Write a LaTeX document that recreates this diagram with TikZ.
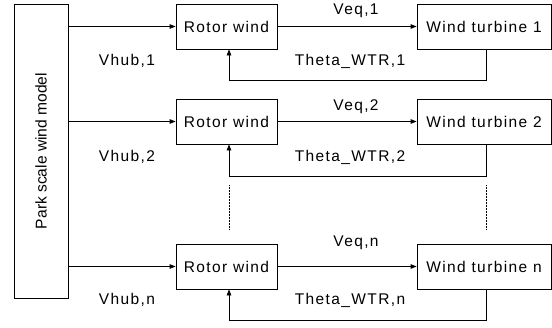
\documentclass[tikz,border=0pt]{standalone}
\usepackage{fontspec}
\setmainfont[LetterSpace=9]{Liberation Sans}
\newfontfamily\parkfont{Liberation Sans}
\usetikzlibrary{arrows.meta,positioning}
\tikzset{
  blk/.style={draw=black, line width=0.8pt, minimum height=45pt, inner sep=0pt, font=\fontsize{15.5}{18}\selectfont},
  lbl/.style={inner sep=0pt, font=\fontsize{15.5}{18}\selectfont},
  sarr/.style={-{Triangle[length=6pt,width=4.5pt]}, line width=0.8pt},
  gap/.style={densely dotted, line width=0.5pt}
}

\begin{document}
\begin{tikzpicture}[x=1pt,y=-1pt]
\useasboundingbox (0,0) rectangle (552,327);
\node[blk, minimum width=54pt, minimum height=294pt] (park) at (41,151) {};
\node[lbl, rotate=90, font=\parkfont\fontsize{15.6}{18}\selectfont] (parktxt) at (park.center) {Park scale wind model};
% rows: index / centre y / feedback y / label y
\foreach \k/\yc/\yf/\yv/\yt in {1/26.5/80/11/61, 2/121.5/176/107/157, n/266.5/320/243/300}{
  \node[blk, minimum width=101pt] (rw\k) at (226.5,\yc) {Rotor wind};
  \node[blk, minimum width=134pt] (wt\k) at (484,\yc) {Wind turbine \k};
  \node[lbl] (vhub\k) at (127,\yt) {Vhub,\k};
  \node[lbl] (veq\k) at (356,\yv) {Veq,\k};
  \node[lbl] (theta\k) at (350,\yt) {Theta\_WTR,\k};
  \coordinate (fa\k) at (486,\yf);
  \coordinate (fb\k) at (229,\yf);
  \draw[sarr] (park.east |- rw\k) -- (rw\k.west);
  \draw[sarr] (rw\k.east) -- (wt\k.west);
  \draw[sarr] (wt\k.south -| fa\k) -- (fa\k) -- (fb\k) -- (rw\k.south -| fb\k);
}
\coordinate (d1) at (229,185); \coordinate (d2) at (229,230);
\coordinate (d3) at (486,185); \coordinate (d4) at (486,230);
\draw[gap] (d1) -- (d2);
\draw[gap] (d3) -- (d4);
\end{tikzpicture}
\end{document}
